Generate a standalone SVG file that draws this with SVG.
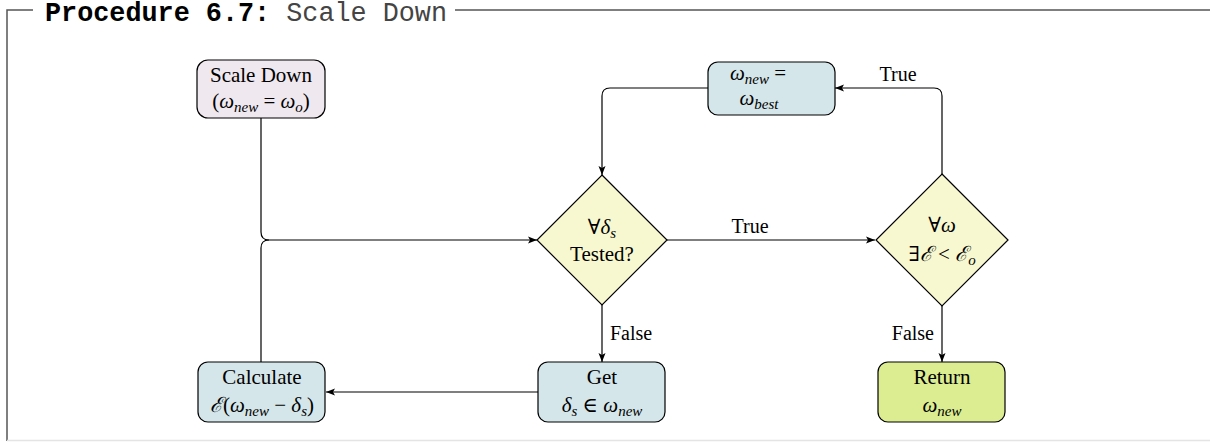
<svg xmlns="http://www.w3.org/2000/svg" width="1210" height="442" viewBox="0 0 1210 442">
<style>
  .frame { stroke:#555; stroke-width:1.5; fill:none; }
  .box { stroke:#000; stroke-width:1.2; }
  .lav { fill:#efe8ef; }
  .blue { fill:#d4e6e9; }
  .yel { fill:#f8f8d0; }
  .grn { fill:#dbed90; }
  .t { font-family:"Liberation Serif","DejaVu Serif",serif; font-size:21px; fill:#000; }
  .m { font-style:italic; }
  .sub { font-style:italic; font-size:15px; }
  .lbl { font-family:"Liberation Serif","DejaVu Serif",serif; font-size:20px; fill:#000; }
  .conn path { stroke:#000; stroke-width:1.2; fill:none; }
  .title { font-family:"Liberation Mono","DejaVu Sans Mono",monospace; font-size:26.8px; }
</style>
<defs>
  <marker id="arr" markerUnits="userSpaceOnUse" markerWidth="10" markerHeight="8" refX="9" refY="4" orient="auto">
    <path d="M0,0.5 L9,4 L0,7.5 L2,4 Z" fill="#000"/>
  </marker>
</defs>
<rect x="0" y="0" width="1210" height="442" fill="#fff"/>
<g id="frame">
  <path class="frame" d="M33,10 H7 V441"/>
  <path class="frame" d="M455,10 H1210"/>
  <path d="M7,440.5 H1210" stroke="#e4e4e4" stroke-width="1.5"/>
  <text class="title" x="45" y="21"><tspan font-weight="bold" fill="#000">Procedure 6.7:</tspan><tspan fill="#444"> Scale Down</tspan></text>
</g>
<g class="conn" id="connectors">
  <path d="M261,118 V232 Q261,240 269,240 H537" marker-end="url(#arr)"/>
  <path d="M261,362 V248 Q261,240 269,240"/>
  <path d="M538,392 H326" marker-end="url(#arr)"/>
  <path d="M602,305 V362" marker-end="url(#arr)"/>
  <path d="M667,240 H875" marker-end="url(#arr)"/>
  <path d="M942,174 V96 Q942,88 934,88 H835" marker-end="url(#arr)"/>
  <path d="M708,88 H610 Q602,88 602,96 V175" marker-end="url(#arr)"/>
  <path d="M942,306 V362" marker-end="url(#arr)"/>
  <text class="lbl" x="898" y="81" text-anchor="middle">True</text>
  <text class="lbl" x="750" y="233" text-anchor="middle">True</text>
  <text class="lbl" x="610" y="340">False</text>
  <text class="lbl" x="934" y="340" text-anchor="end">False</text>
</g>
<g id="scaledown">
  <rect class="box lav" x="197" y="60" width="128" height="58" rx="11"/>
  <text class="t" x="261" y="82" text-anchor="middle">Scale Down</text>
  <text class="t" x="261" y="108" text-anchor="middle">(<tspan class="m">ω</tspan><tspan class="sub" dy="4">new</tspan><tspan dy="-4"> = </tspan><tspan class="m">ω</tspan><tspan class="sub" dy="4">o</tspan><tspan dy="-4">)</tspan></text>
</g>
<g id="best">
  <rect class="box blue" x="708" y="62" width="127" height="53" rx="10"/>
  <text class="t" x="758" y="80" text-anchor="middle"><tspan class="m">ω</tspan><tspan class="sub" dy="4">new</tspan><tspan dy="-4"> =</tspan></text>
  <text class="t" x="759" y="105" text-anchor="middle"><tspan class="m">ω</tspan><tspan class="sub" dy="4">best</tspan></text>
</g>
<g id="tested">
  <path class="box yel" d="M602,175 L667,240 L602,305 L537,240 Z"/>
  <text class="t" x="602" y="234" text-anchor="middle">∀<tspan class="m">δ</tspan><tspan class="sub" dy="4">s</tspan></text>
  <text class="t" x="602" y="261" text-anchor="middle">Tested?</text>
</g>
<g id="exists">
  <path class="box yel" d="M942,174 L1008,240 L942,306 L876,240 Z"/>
  <text class="t" x="942" y="232" text-anchor="middle">∀<tspan class="m">ω</tspan></text>
  <text class="t" x="942" y="261" text-anchor="middle">∃<tspan class="m">ℰ</tspan> &lt; <tspan class="m">ℰ</tspan><tspan class="sub" dy="4">o</tspan></text>
</g>
<g id="get">
  <rect class="box blue" x="538" y="362" width="127" height="60" rx="10"/>
  <text class="t" x="602" y="384" text-anchor="middle">Get</text>
  <text class="t" x="602" y="412" text-anchor="middle"><tspan class="m">δ</tspan><tspan class="sub" dy="4">s</tspan><tspan dy="-4"> ∈ </tspan><tspan class="m">ω</tspan><tspan class="sub" dy="4">new</tspan></text>
</g>
<g id="calculate">
  <rect class="box blue" x="198" y="362" width="127" height="60" rx="10"/>
  <text class="t" x="262" y="384" text-anchor="middle">Calculate</text>
  <text class="t" x="262" y="412" text-anchor="middle"><tspan class="m">ℰ</tspan>(<tspan class="m">ω</tspan><tspan class="sub" dy="4">new</tspan><tspan dy="-4"> − </tspan><tspan class="m">δ</tspan><tspan class="sub" dy="4">s</tspan><tspan dy="-4">)</tspan></text>
</g>
<g id="return">
  <rect class="box grn" x="878" y="362" width="127" height="60" rx="10"/>
  <text class="t" x="942" y="384" text-anchor="middle">Return</text>
  <text class="t" x="942" y="412" text-anchor="middle"><tspan class="m">ω</tspan><tspan class="sub" dy="4">new</tspan></text>
</g>
</svg>
